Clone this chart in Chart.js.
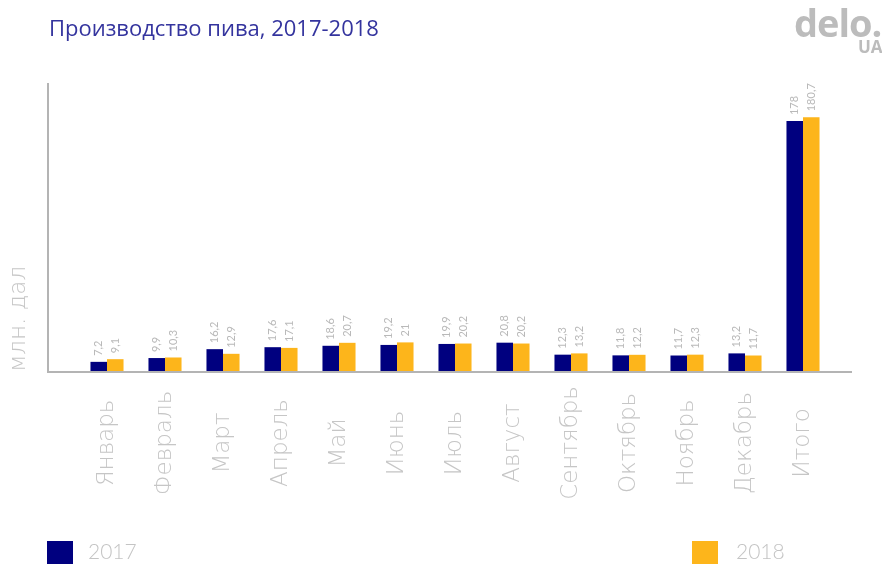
<!DOCTYPE html>
<html>
<head>
<meta charset="utf-8">
<script src="https://cdn.jsdelivr.net/npm/chart.js@4/dist/chart.umd.min.js"></script>
<style>
  html, body { margin: 0; padding: 0; background: #fff; overflow: hidden; }
  #wrap { position: relative; width: 882px; height: 564px; overflow: hidden; }
  #chart { position: absolute; left: 0; top: 0; }
  .title { position: absolute; left: 49px; top: 12px; font: 400 22px "Open Sans", sans-serif; color: #34349e; white-space: nowrap; }
  .logo { position: absolute; left: 794px; top: -4px; font: 700 38px "Open Sans", sans-serif; color: #bcbcbc; white-space: nowrap; letter-spacing: -1px; }
  .logo2 { position: absolute; left: 858px; top: 35px; font: 700 17px "Open Sans", sans-serif; color: #bcbcbc; white-space: nowrap; }
  .lg-box { position: absolute; top: 541px; width: 26px; height: 30px; }
  .lg-txt { position: absolute; top: 538px; font: 300 21px "Lato", sans-serif; color: #c4c4c4; }
</style>
</head>
<body>
<div id="wrap">
  <canvas id="chart" width="882" height="564"></canvas>
  <div class="title">Производство пива, 2017-2018</div>
  <div class="logo">delo.</div>
  <div class="logo2">UA</div>
  <div class="lg-box" style="left:47px;background:#00007f"></div>
  <div class="lg-txt" style="left:88px">2017</div>
  <div class="lg-box" style="left:692px;background:#fdb51b"></div>
  <div class="lg-txt" style="left:736px">2018</div>
</div>
<script>
  var months = ["Январь", "Февраль", "Март", "Апрель", "Май", "Июнь", "Июль", "Август", "Сентябрь", "Октябрь", "Ноябрь", "Декабрь", "Итого"];
  var beer2017 = [7.2, 9.9, 16.2, 17.6, 18.6, 19.2, 19.9, 20.8, 12.3, 11.8, 11.7, 13.2, 178];
  var beer2018 = [9.1, 10.3, 12.9, 17.1, 20.7, 21, 20.2, 20.2, 13.2, 12.2, 12.3, 11.7, 180.7];

  var labelFont = '200 23px "DejaVu Sans", sans-serif';
  var labelColor = '#c6c6c6';

  // оси рисуем сами: линия Y стоит левее первой группы столбиков
  var axisLines = {
    id: 'axisLines',
    afterDraw: function (chart) {
      var ctx = chart.ctx, a = chart.chartArea;
      ctx.save();
      ctx.strokeStyle = '#b4b4b4';
      ctx.lineWidth = 2;
      ctx.beginPath();
      ctx.moveTo(a.left - 30, a.top);
      ctx.lineTo(a.left - 30, a.bottom);
      ctx.lineTo(a.right + 20, a.bottom);
      ctx.stroke();
      ctx.restore();
    }
  };

  // названия месяцев под осью, повернутые и выровненные по центру
  var monthLabels = {
    id: 'monthLabels',
    afterDraw: function (chart) {
      var ctx = chart.ctx, x = chart.scales.x;
      var cy = chart.chartArea.bottom + 71;
      ctx.save();
      ctx.fillStyle = labelColor;
      ctx.font = labelFont;
      ctx.textAlign = 'center';
      ctx.textBaseline = 'middle';
      chart.data.labels.forEach(function (lab, i) {
        ctx.save();
        ctx.translate(x.getPixelForTick(i), cy);
        ctx.rotate(-Math.PI / 2);
        ctx.fillText(lab, 0, 0);
        ctx.restore();
      });
      // подпись оси Y
      ctx.textAlign = 'left';
      ctx.translate(19, chart.chartArea.bottom);
      ctx.rotate(-Math.PI / 2);
      ctx.fillText('млн. дал', 0, 0);
      ctx.restore();
    }
  };

  // подписи значений над столбиками, повернутые вертикально
  var valueLabels = {
    id: 'valueLabels',
    afterDatasetsDraw: function (chart) {
      var ctx = chart.ctx;
      ctx.save();
      ctx.fillStyle = '#b9b9b9';
      ctx.font = '11px Lato, sans-serif';
      ctx.textAlign = 'left';
      ctx.textBaseline = 'middle';
      chart.data.datasets.forEach(function (ds, i) {
        chart.getDatasetMeta(i).data.forEach(function (bar, j) {
          ctx.save();
          ctx.translate(bar.x, bar.y - 6);
          ctx.rotate(-Math.PI / 2);
          ctx.fillText(String(ds.data[j]).replace('.', ','), 0, 0);
          ctx.restore();
        });
      });
      ctx.restore();
    }
  };

  new Chart(document.getElementById('chart'), {
    type: 'bar',
    data: {
      labels: months,
      datasets: [
        { label: '2017', data: beer2017, backgroundColor: '#00007f' },
        { label: '2018', data: beer2018, backgroundColor: '#fdb51b' }
      ]
    },
    options: {
      responsive: false,
      animation: false,
      categoryPercentage: 0.57,
      barPercentage: 1,
      layout: { padding: { top: 83, right: 50, left: 0, bottom: 0 } },
      plugins: { legend: { display: false }, tooltip: { enabled: false } },
      scales: {
        x: {
          grid: { display: false, drawTicks: false },
          border: { display: false },
          ticks: { display: false },
          afterFit: function (s) { s.height = 192; }
        },
        y: {
          min: 0, max: 205,
          grid: { display: false },
          border: { display: false },
          ticks: { display: false },
          afterFit: function (s) { s.width = 78; }
        }
      }
    },
    plugins: [axisLines, valueLabels, monthLabels]
  });
</script>
</body>
</html>
